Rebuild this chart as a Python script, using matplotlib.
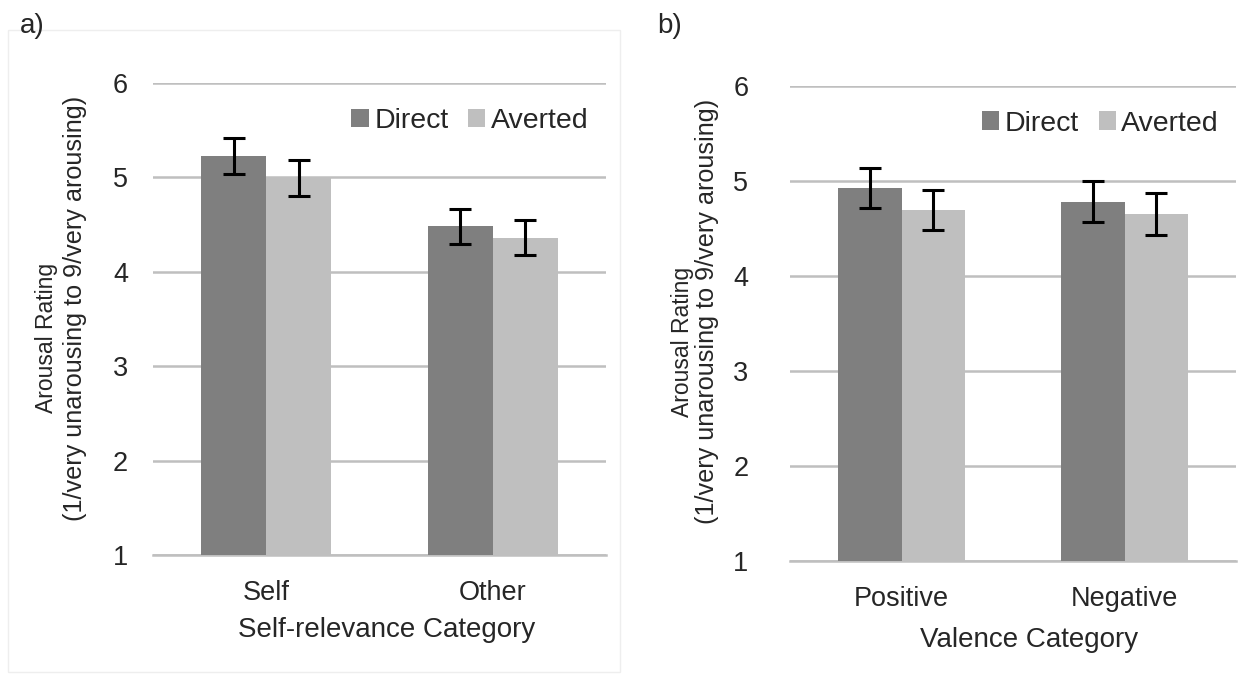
import matplotlib
matplotlib.use("Agg")
import matplotlib.pyplot as plt
from matplotlib.patches import Rectangle
import numpy as np

plt.rcParams['font.family'] = ['Liberation Sans', 'DejaVu Sans']

# Panel a: self-relevance
self_categories = ["Self", "Other"]
self_direct = [5.23, 4.48]
self_direct_err = [0.19, 0.185]
self_averted = [4.99, 4.36]
self_averted_err = [0.19, 0.185]

# Panel b: valence
valence_categories = ["Positive", "Negative"]
valence_direct = [4.92, 4.78]
valence_direct_err = [0.21, 0.22]
valence_averted = [4.69, 4.65]
valence_averted_err = [0.21, 0.22]

series_names = ["Direct", "Averted"]
y_ticks = [1, 2, 3, 4, 5, 6]

DARK = "#7f7f7f"
LIGHT = "#bfbfbf"
GRID = "#bfbfbf"
TXT = "#262626"

W, H = 1238, 674
fig = plt.figure(figsize=(W / 100, H / 100), dpi=100)


def px_axes(left, right, top, bottom):
    return fig.add_axes([left / W, 1 - bottom / H, (right - left) / W, (bottom - top) / H])


def panel(ax, cats, d, de, a, ae, width, tick_pad, xlabel, xlab_xy, ylab_xy, ylab2_xy, leg_x):
    x = np.arange(len(cats))
    ax.bar(x - width / 2, d, width, color=DARK, label=series_names[0], zorder=3)
    ax.bar(x + width / 2, a, width, color=LIGHT, label=series_names[1], zorder=3)
    ax.errorbar(x - width / 2, d, yerr=de, fmt="none", ecolor="black",
                elinewidth=2.2, capsize=8, capthick=2.2, zorder=4)
    ax.errorbar(x + width / 2, a, yerr=ae, fmt="none", ecolor="black",
                elinewidth=2.2, capsize=8, capthick=2.2, zorder=4)
    ax.set_ylim(1, 6)
    ax.set_xlim(-0.5, len(cats) - 0.5)
    ax.set_yticks(y_ticks)
    ax.set_xticks(x)
    ax.set_xticklabels(cats)
    ax.tick_params(axis="both", length=0, labelsize=19.5, colors=TXT)
    ax.tick_params(axis="y", pad=tick_pad)
    ax.tick_params(axis="x", pad=18)
    for s in ["top", "right", "left"]:
        ax.spines[s].set_visible(False)
    ax.spines["bottom"].set_color(GRID)
    ax.spines["bottom"].set_linewidth(1.8)
    ax.grid(axis="y", color=GRID, linewidth=1.8, zorder=0)
    ax.set_axisbelow(True)

    ax.set_xlabel(xlabel, fontsize=20, color=TXT)
    ax.xaxis.label.set_va("center")
    ax.xaxis.set_label_coords(*xlab_xy)

    ax.set_ylabel("Arousal Rating", fontsize=16.5, color=TXT)
    ax.yaxis.label.set_va("center")
    ax.yaxis.set_label_coords(*ylab_xy)
    ax.text(ylab2_xy[0], ylab2_xy[1], "(1/very unarousing to 9/very arousing)",
            transform=ax.transAxes, rotation=90, ha="center", va="center",
            fontsize=18.2, color=TXT)

    leg = ax.legend(loc="center right", bbox_to_anchor=(leg_x, 0.92), ncol=2,
                    frameon=False, fontsize=20.5, handlelength=0.6, handleheight=0.6,
                    handletextpad=0.2, columnspacing=0.7, borderpad=0, borderaxespad=0)
    for t in leg.get_texts():
        t.set_color(TXT)


ax_a = px_axes(153, 606, 83, 555)
panel(ax_a, self_categories, self_direct, self_direct_err, self_averted, self_averted_err,
      0.288, 18, "Self-relevance Category", (0.516, -0.159), (-0.234, 0.46), (-0.172, 0.523),
      0.962)

ax_b = px_axes(790, 1236, 85.5, 561)
panel(ax_b, valence_categories, valence_direct, valence_direct_err, valence_averted,
      valence_averted_err, 0.285, 30, "Valence Category", (0.537, -0.166),
      (-0.241, 0.46), (-0.185, 0.524), 0.962)

# faint outline around the left panel
fig.patches.append(Rectangle((8 / W, 1 - 672 / H), 612 / W, 642 / H, transform=fig.transFigure,
                             fill=False, edgecolor="#eeeeee", linewidth=1.0))

fig.text(20 / W, 1 - 26 / H, "a)", fontsize=20, color=TXT, ha="left", va="center")
fig.text(657 / W, 1 - 26 / H, "b)", fontsize=20, color=TXT, ha="left", va="center")

fig.savefig("out.png", dpi=100, facecolor="white")
